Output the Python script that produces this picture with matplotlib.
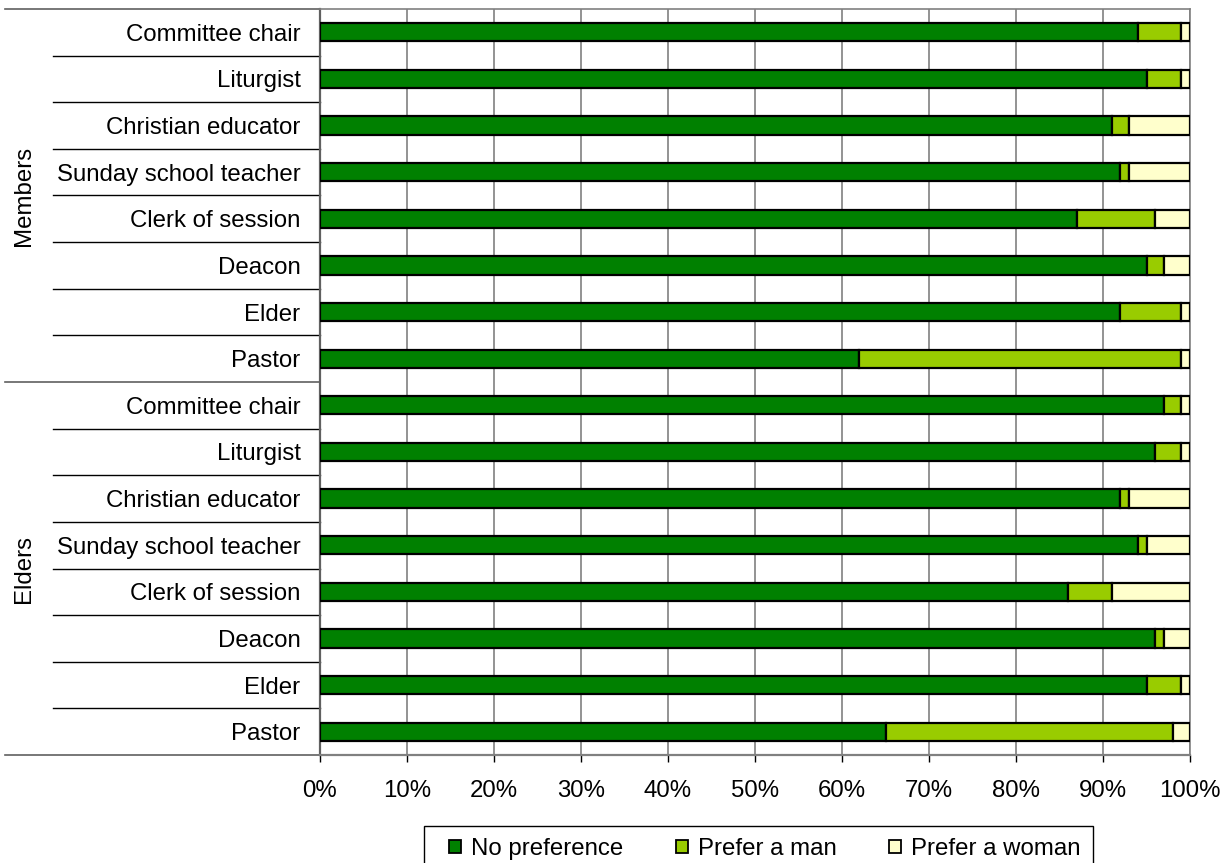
import matplotlib
matplotlib.use("Agg")
import matplotlib.pyplot as plt
import matplotlib.transforms as mtransforms
from matplotlib.patches import Patch, Rectangle

plt.rcParams['font.family'] = ['Liberation Sans', 'DejaVu Sans']

groups = ["Members", "Elders"]
roles = ["Committee chair", "Liturgist", "Christian educator", "Sunday school teacher",
         "Clerk of session", "Deacon", "Elder", "Pastor"]
series_names = ["No preference", "Prefer a man", "Prefer a woman"]

# Members (top block), top to bottom
members_no_pref = [94, 95, 91, 92, 87, 95, 92, 62]
members_man = [5, 4, 2, 1, 9, 2, 7, 37]
members_woman = [1, 1, 7, 7, 4, 3, 1, 1]
# Elders (bottom block), top to bottom
elders_no_pref = [97, 96, 92, 94, 86, 96, 95, 65]
elders_man = [2, 3, 1, 1, 5, 1, 4, 33]
elders_woman = [1, 1, 7, 5, 9, 3, 1, 2]

colors = ["#008000", "#99CC00", "#FFFFCC"]
x_ticks = [0, 10, 20, 30, 40, 50, 60, 70, 80, 90, 100]

labels = roles + roles
no_pref = members_no_pref + elders_no_pref
man = members_man + elders_man
woman = members_woman + elders_woman
n = len(labels)
ypos = list(range(n))

FS = 17.3

fig = plt.figure(figsize=(12.32, 8.63), dpi=100)
L, R = 320 / 1232, 1190 / 1232
T, B = 1 - 9 / 863, 1 - 755 / 863
ax = fig.add_axes([L, B, R - L, T - B])

h = 0.39
lefts = [0] * n
for vals, c in zip([no_pref, man, woman], colors):
    ax.barh(ypos, vals, left=lefts, height=h, color=c, edgecolor="black", linewidth=1.6, zorder=3)
    lefts = [a + b for a, b in zip(lefts, vals)]

ax.set_xlim(0, 100)
ax.set_ylim(n - 0.5, -0.5)
ax.set_xticks(x_ticks)
ax.set_xticklabels([f"{v}%" for v in x_ticks], fontsize=FS)
ax.set_yticks(ypos)
ax.set_yticklabels(labels, fontsize=FS)
ax.tick_params(axis="y", length=0, pad=14)
ax.tick_params(axis="x", direction="out", length=5, width=1, color="black", pad=13)
ax.xaxis.grid(True, color="#808080", linewidth=1.2, zorder=0)
ax.set_axisbelow(True)
for s in ["top", "right"]:
    ax.spines[s].set_color("#808080")
    ax.spines[s].set_linewidth(1.2)
ax.spines["bottom"].set_color("#808080")
ax.spines["bottom"].set_linewidth(1.6)
ax.spines["left"].set_color("#606060")
ax.spines["left"].set_linewidth(1.6)

trans = mtransforms.blended_transform_factory(ax.transAxes, ax.transData)
# category separators
for i in range(1, n):
    if i == 8:
        continue
    ax.plot([(53 - 320) / 870, 0], [i - 0.5, i - 0.5], transform=trans, color="black",
            linewidth=1.0, clip_on=False)
# group separators
for yb in [-0.5, 7.5, 15.5]:
    ax.plot([(5 - 320) / 870, 0], [yb, yb], transform=trans, color="#606060",
            linewidth=1.2, clip_on=False)
for gi, g in enumerate(groups):
    yc = gi * 8 + 3.5
    ax.text((24 - 320) / 870, yc, g, transform=trans, rotation=90, fontsize=FS,
            ha="center", va="center")

handles = [Patch(facecolor=c, edgecolor="black", linewidth=1.3) for c in colors]
fig.legend(handles, series_names, loc="center", bbox_to_anchor=(765 / 1232, 1 - 849 / 863),
           ncol=3, fontsize=FS, frameon=False,
           handlelength=0.5, handleheight=0.5, handletextpad=0.4, columnspacing=2.2,
           borderpad=0.0)
fig.add_artist(Rectangle((424 / 1232, -0.02), (1093 - 424) / 1232, (0.02 + 1 - 826 / 863),
                         transform=fig.transFigure, facecolor="none", edgecolor="black",
                         linewidth=1.0))

fig.savefig("out.png", dpi=100)
